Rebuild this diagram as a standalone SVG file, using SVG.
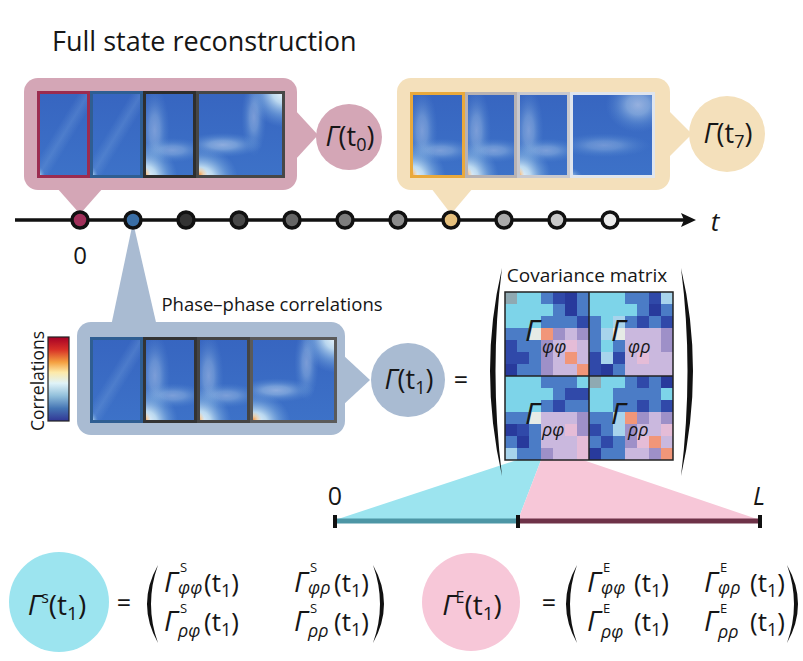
<svg xmlns="http://www.w3.org/2000/svg" width="803" height="661" viewBox="0 0 803 661">
<style>
text{font-family:"Open Sans","Noto Sans","Liberation Sans",sans-serif;fill:#161616}
.it{font-style:italic}
.cv rect{width:12px;height:12px}
.g{fill:#8fa9b2}.c{fill:#7dd4e9}.l{fill:#a8d4ec}.w{fill:#e6ebe6}.b{fill:#4b7cc6}.d{fill:#3049a9}.n{fill:#283a9c}.v{fill:#cab8de}.p{fill:#9e90c8}.k{fill:#e5bcd7}.s{fill:#f19679}
.dot{stroke:#111;stroke-width:3.5}
.hb{fill:none;stroke-width:3}
.pk{fill:#d4a6b6}.yl{fill:#f4e0bb}.bl{fill:#a9bbd2}
.ga{font-size:28px;font-style:italic}
.sp{font-size:13px}
.sb{font-size:18px;font-style:italic}
.el{font-size:26px}
</style>
<defs>
<radialGradient id="hl"><stop offset="0" stop-color="#f4fafd"/><stop offset=".35" stop-color="#c9e4f4" stop-opacity=".9"/><stop offset=".7" stop-color="#86b4e2" stop-opacity=".45"/><stop offset="1" stop-color="#6a9bdb" stop-opacity="0"/></radialGradient>
<radialGradient id="or"><stop offset="0" stop-color="#f39a4c"/><stop offset=".5" stop-color="#f6c48a" stop-opacity=".6"/><stop offset="1" stop-color="#f6c48a" stop-opacity="0"/></radialGradient>
<linearGradient id="base" x1="0" y1="0" x2="0" y2="1"><stop offset="0" stop-color="#3765c0"/><stop offset="1" stop-color="#3d72c8"/></linearGradient>
<linearGradient id="diag" x1="0" y1="0" x2="1" y2="1"><stop offset="0" stop-color="#7aa6de" stop-opacity="0"/><stop offset=".4" stop-color="#7aa6de" stop-opacity="0"/><stop offset=".5" stop-color="#7aa6de" stop-opacity=".3"/><stop offset=".6" stop-color="#7aa6de" stop-opacity="0"/><stop offset="1" stop-color="#7aa6de" stop-opacity="0"/></linearGradient>
<linearGradient id="cb" x1="0" y1="0" x2="0" y2="1"><stop offset="0" stop-color="#a50026"/><stop offset=".15" stop-color="#d73027"/><stop offset=".3" stop-color="#f4a040"/><stop offset=".42" stop-color="#fde9a8"/><stop offset=".55" stop-color="#e0f3f8"/><stop offset=".7" stop-color="#91bfdb"/><stop offset=".85" stop-color="#4575b4"/><stop offset="1" stop-color="#313695"/></linearGradient>
<symbol id="hmFlat" viewBox="0 0 100 100" preserveAspectRatio="none">
<rect width="100" height="100" fill="url(#base)"/>
<rect width="100" height="100" fill="url(#diag)"/>
<ellipse cx="0" cy="100" rx="16" ry="14" fill="url(#hl)"/>
</symbol>
<symbol id="hmBand" viewBox="0 0 100 100" preserveAspectRatio="none">
<rect width="100" height="100" fill="url(#base)"/>
<ellipse cx="22" cy="45" rx="28" ry="50" fill="url(#hl)" opacity=".35"/>
<ellipse cx="55" cy="68" rx="65" ry="14" fill="url(#hl)" opacity=".35"/>
<ellipse cx="5" cy="100" rx="60" ry="40" fill="url(#hl)"/>
<circle cx="4" cy="97" r="10" fill="url(#or)"/>
</symbol>
<symbol id="hmCross" viewBox="0 0 100 100" preserveAspectRatio="none">
<rect width="100" height="100" fill="url(#base)"/>
<ellipse cx="100" cy="0" rx="42" ry="42" fill="url(#hl)"/>
<ellipse cx="30" cy="62" rx="45" ry="14" fill="url(#hl)" opacity=".45"/>
<ellipse cx="65" cy="30" rx="14" ry="45" fill="url(#hl)" opacity=".35"/>
<ellipse cx="5" cy="100" rx="42" ry="36" fill="url(#hl)"/>
<circle cx="4" cy="96" r="9" fill="url(#or)"/>
</symbol>
<symbol id="hmSoft" viewBox="0 0 100 100" preserveAspectRatio="none">
<rect width="100" height="100" fill="url(#base)"/>
<ellipse cx="80" cy="15" rx="38" ry="32" fill="url(#hl)" opacity=".5"/>
<ellipse cx="40" cy="62" rx="55" ry="14" fill="url(#hl)" opacity=".3"/>
<ellipse cx="0" cy="100" rx="15" ry="12" fill="url(#hl)" opacity=".6"/>
</symbol>
<marker id="arr" viewBox="0 0 15 14" refX="3" refY="7" markerWidth="15" markerHeight="14" markerUnits="userSpaceOnUse" orient="auto"><path d="M0,0 L15,7 L0,14 L3,7Z" fill="#111"/></marker>
</defs>

<rect width="803" height="661" fill="#fff"/>

<text x="52" y="51" font-size="27">Full state reconstruction</text>

<!-- t0 panel -->
<g id="panel-t0">
<rect class="pk" x="24" y="78" width="273" height="112" rx="14"/>
<polygon class="pk" points="57,188 103,188 80,214"/>
<polygon class="pk" points="295,110 318,135 295,160"/>
<use href="#hmFlat" x="37" y="91" width="53" height="87"/>
<use href="#hmFlat" x="90" y="91" width="53" height="87"/>
<use href="#hmBand" x="143" y="91" width="53" height="87"/>
<use href="#hmCross" x="196" y="91" width="89" height="87"/>
<rect class="hb" x="38.5" y="92.5" width="50" height="84" stroke="#9b2c50"/>
<rect class="hb" x="91.5" y="92.5" width="50" height="84" stroke="#2f5e92"/>
<rect class="hb" x="144.5" y="92.5" width="50" height="84" stroke="#2e2e2e"/>
<rect class="hb" x="197.5" y="92.5" width="86" height="84" stroke="#474747"/>
</g>
<g id="node-t0">
<circle class="pk" cx="349" cy="137" r="33"/>
<text x="350" y="146" text-anchor="middle" font-size="27"><tspan class="it">Γ</tspan>(t<tspan font-size="18" dy="5">0</tspan><tspan dy="-5">)</tspan></text>
</g>

<!-- t7 panel -->
<g id="panel-t7">
<rect class="yl" x="397" y="78" width="273" height="112" rx="14"/>
<polygon class="yl" points="431,188 473,188 451,214"/>
<polygon class="yl" points="668,110 692,134 668,158"/>
<use href="#hmBand" x="410" y="92" width="55" height="86"/>
<use href="#hmBand" x="465" y="92" width="52" height="86"/>
<use href="#hmBand" x="517" y="92" width="53" height="86"/>
<use href="#hmSoft" x="570" y="92" width="85" height="86"/>
<rect class="hb" x="411.5" y="93.5" width="52" height="83" stroke="#e9a93c"/>
<rect class="hb" x="466.5" y="93.5" width="49" height="83" stroke="#b7b2b3"/>
<rect class="hb" x="518.5" y="93.5" width="50" height="83" stroke="#c9c9ce"/>
<rect class="hb" x="571.5" y="93.5" width="82" height="83" stroke="#dfe5ee"/>
</g>
<g id="node-t7">
<circle class="yl" cx="727" cy="134" r="38"/>
<text x="728" y="143" text-anchor="middle" font-size="27"><tspan class="it">Γ</tspan>(t<tspan font-size="18" dy="5">7</tspan><tspan dy="-5">)</tspan></text>
</g>

<!-- t1 panel -->
<g id="panel-t1">
<polygon class="bl" points="133,222 110,331 158,331"/>
<rect class="bl" x="77" y="322" width="268" height="113" rx="14"/>
<polygon class="bl" points="343,355 370,380 343,405"/>
<text x="272" y="311" text-anchor="middle" font-size="18.5">Phase–phase correlations</text>
<use href="#hmFlat" x="90" y="337" width="53" height="86"/>
<use href="#hmBand" x="143" y="337" width="54" height="86"/>
<use href="#hmBand" x="197" y="337" width="53" height="86"/>
<use href="#hmCross" x="250" y="337" width="87" height="86"/>
<rect class="hb" x="91.5" y="338.5" width="50" height="83" stroke="#2f5e92"/>
<rect class="hb" x="144.5" y="338.5" width="51" height="83" stroke="#333"/>
<rect class="hb" x="198.5" y="338.5" width="50" height="83" stroke="#444"/>
<rect class="hb" x="251.5" y="338.5" width="84" height="83" stroke="#5a5a5a"/>
</g>
<g id="node-t1">
<circle class="bl" cx="408" cy="380" r="37"/>
<text x="409" y="389" text-anchor="middle" font-size="27"><tspan class="it">Γ</tspan>(t<tspan font-size="18" dy="5">1</tspan><tspan dy="-5">)</tspan></text>
<text x="461" y="389" text-anchor="middle" font-size="25">=</text>
</g>

<!-- colorbar -->
<g id="colorbar">
<rect x="48" y="337" width="21" height="84" fill="url(#cb)" stroke="#222" stroke-width="1.2"/>
<text transform="translate(44,381) rotate(-90)" text-anchor="middle" font-size="17.5">Correlations</text>
</g>

<!-- timeline -->
<g id="connectors">
<line x1="15" y1="220" x2="684" y2="220" stroke="#111" stroke-width="3.5" marker-end="url(#arr)"/>
</g>
<g id="timeline">
<circle class="dot" cx="80" cy="220" r="8" fill="#a0305a"/>
<circle class="dot" cx="133" cy="220" r="8" fill="#3a6ea5"/>
<circle class="dot" cx="186" cy="220" r="8" fill="#333"/>
<circle class="dot" cx="239" cy="220" r="8" fill="#474747"/>
<circle class="dot" cx="292" cy="220" r="8" fill="#666"/>
<circle class="dot" cx="345" cy="220" r="8" fill="#7d7d7d"/>
<circle class="dot" cx="398" cy="220" r="8" fill="#8c8c8c"/>
<circle class="dot" cx="451" cy="220" r="8" fill="#e6c07d"/>
<circle class="dot" cx="504" cy="220" r="8" fill="#ababab"/>
<circle class="dot" cx="557" cy="220" r="8" fill="#c9c9c9"/>
<circle class="dot" cx="610" cy="220" r="8" fill="#ececec"/>
<text x="715" y="231" text-anchor="middle" font-size="26" class="it">t</text>
<text x="80" y="264" text-anchor="middle" font-size="24">0</text>
</g>

<!-- wedges to spatial bar -->
<g id="wedges">
<polygon points="335,520 518,520 541,460 517,460" fill="#9ce4ef"/>
<polygon points="518,520 760,520 583,460 541,460" fill="#f7c7d8"/>
</g>

<!-- covariance matrix -->
<g id="covariance">
<text x="587" y="282" text-anchor="middle" font-size="19">Covariance matrix</text>
<path d="M502,268 Q478,370 502,476 Q489,370 502,268Z" fill="#111"/>
<path d="M681,268 Q705,370 681,476 Q694,370 681,268Z" fill="#111"/>
<g class="cv" transform="translate(505,292)">
<rect class="g" x="0" y="0"/><rect class="c" x="12" y="0"/><rect class="c" x="24" y="0"/><rect class="b" x="36" y="0"/><rect class="d" x="48" y="0"/><rect class="n" x="60" y="0"/><rect class="b" x="72" y="0"/><rect class="c" x="84" y="0"/><rect class="c" x="96" y="0"/><rect class="c" x="108" y="0"/><rect class="b" x="120" y="0"/><rect class="b" x="132" y="0"/><rect class="d" x="144" y="0"/><rect class="l" x="156" y="0"/>
<rect class="c" x="0" y="12"/><rect class="c" x="12" y="12"/><rect class="c" x="24" y="12"/><rect class="c" x="36" y="12"/><rect class="b" x="48" y="12"/><rect class="n" x="60" y="12"/><rect class="b" x="72" y="12"/><rect class="c" x="84" y="12"/><rect class="c" x="96" y="12"/><rect class="c" x="108" y="12"/><rect class="c" x="120" y="12"/><rect class="b" x="132" y="12"/><rect class="n" x="144" y="12"/><rect class="b" x="156" y="12"/>
<rect class="c" x="0" y="24"/><rect class="c" x="12" y="24"/><rect class="c" x="24" y="24"/><rect class="b" x="36" y="24"/><rect class="b" x="48" y="24"/><rect class="b" x="60" y="24"/><rect class="d" x="72" y="24"/><rect class="b" x="84" y="24"/><rect class="c" x="96" y="24"/><rect class="l" x="108" y="24"/><rect class="b" x="120" y="24"/><rect class="d" x="132" y="24"/><rect class="b" x="144" y="24"/><rect class="d" x="156" y="24"/>
<rect class="b" x="0" y="36"/><rect class="b" x="12" y="36"/><rect class="w" x="24" y="36"/><rect class="s" x="36" y="36"/><rect class="p" x="48" y="36"/><rect class="v" x="60" y="36"/><rect class="p" x="72" y="36"/><rect class="b" x="84" y="36"/><rect class="l" x="96" y="36"/><rect class="w" x="108" y="36"/><rect class="v" x="120" y="36"/><rect class="v" x="132" y="36"/><rect class="v" x="144" y="36"/><rect class="p" x="156" y="36"/>
<rect class="d" x="0" y="48"/><rect class="b" x="12" y="48"/><rect class="b" x="24" y="48"/><rect class="p" x="36" y="48"/><rect class="v" x="48" y="48"/><rect class="k" x="60" y="48"/><rect class="v" x="72" y="48"/><rect class="b" x="84" y="48"/><rect class="c" x="96" y="48"/><rect class="b" x="108" y="48"/><rect class="v" x="120" y="48"/><rect class="v" x="132" y="48"/><rect class="v" x="144" y="48"/><rect class="p" x="156" y="48"/>
<rect class="d" x="0" y="60"/><rect class="d" x="12" y="60"/><rect class="b" x="24" y="60"/><rect class="p" x="36" y="60"/><rect class="v" x="48" y="60"/><rect class="s" x="60" y="60"/><rect class="v" x="72" y="60"/><rect class="d" x="84" y="60"/><rect class="l" x="96" y="60"/><rect class="d" x="108" y="60"/><rect class="v" x="120" y="60"/><rect class="k" x="132" y="60"/><rect class="v" x="144" y="60"/><rect class="v" x="156" y="60"/>
<rect class="n" x="0" y="72"/><rect class="b" x="12" y="72"/><rect class="b" x="24" y="72"/><rect class="p" x="36" y="72"/><rect class="v" x="48" y="72"/><rect class="v" x="60" y="72"/><rect class="s" x="72" y="72"/><rect class="d" x="84" y="72"/><rect class="n" x="96" y="72"/><rect class="b" x="108" y="72"/><rect class="v" x="120" y="72"/><rect class="v" x="132" y="72"/><rect class="v" x="144" y="72"/><rect class="v" x="156" y="72"/>
<rect class="c" x="0" y="84"/><rect class="c" x="12" y="84"/><rect class="c" x="24" y="84"/><rect class="b" x="36" y="84"/><rect class="b" x="48" y="84"/><rect class="b" x="60" y="84"/><rect class="c" x="72" y="84"/><rect class="g" x="84" y="84"/><rect class="c" x="96" y="84"/><rect class="c" x="108" y="84"/><rect class="b" x="120" y="84"/><rect class="d" x="132" y="84"/><rect class="b" x="144" y="84"/><rect class="n" x="156" y="84"/>
<rect class="c" x="0" y="96"/><rect class="c" x="12" y="96"/><rect class="c" x="24" y="96"/><rect class="c" x="36" y="96"/><rect class="b" x="48" y="96"/><rect class="d" x="60" y="96"/><rect class="d" x="72" y="96"/><rect class="c" x="84" y="96"/><rect class="c" x="96" y="96"/><rect class="b" x="108" y="96"/><rect class="b" x="120" y="96"/><rect class="b" x="132" y="96"/><rect class="b" x="144" y="96"/><rect class="c" x="156" y="96"/>
<rect class="c" x="0" y="108"/><rect class="c" x="12" y="108"/><rect class="c" x="24" y="108"/><rect class="b" x="36" y="108"/><rect class="d" x="48" y="108"/><rect class="b" x="60" y="108"/><rect class="b" x="72" y="108"/><rect class="c" x="84" y="108"/><rect class="c" x="96" y="108"/><rect class="b" x="108" y="108"/><rect class="b" x="120" y="108"/><rect class="d" x="132" y="108"/><rect class="b" x="144" y="108"/><rect class="d" x="156" y="108"/>
<rect class="b" x="0" y="120"/><rect class="b" x="12" y="120"/><rect class="w" x="24" y="120"/><rect class="v" x="36" y="120"/><rect class="v" x="48" y="120"/><rect class="v" x="60" y="120"/><rect class="p" x="72" y="120"/><rect class="b" x="84" y="120"/><rect class="b" x="96" y="120"/><rect class="l" x="108" y="120"/><rect class="s" x="120" y="120"/><rect class="p" x="132" y="120"/><rect class="v" x="144" y="120"/><rect class="p" x="156" y="120"/>
<rect class="n" x="0" y="132"/><rect class="d" x="12" y="132"/><rect class="b" x="24" y="132"/><rect class="v" x="36" y="132"/><rect class="v" x="48" y="132"/><rect class="k" x="60" y="132"/><rect class="p" x="72" y="132"/><rect class="d" x="84" y="132"/><rect class="b" x="96" y="132"/><rect class="l" x="108" y="132"/><rect class="p" x="120" y="132"/><rect class="v" x="132" y="132"/><rect class="v" x="144" y="132"/><rect class="k" x="156" y="132"/>
<rect class="b" x="0" y="144"/><rect class="n" x="12" y="144"/><rect class="b" x="24" y="144"/><rect class="v" x="36" y="144"/><rect class="v" x="48" y="144"/><rect class="v" x="60" y="144"/><rect class="k" x="72" y="144"/><rect class="b" x="84" y="144"/><rect class="d" x="96" y="144"/><rect class="b" x="108" y="144"/><rect class="p" x="120" y="144"/><rect class="k" x="132" y="144"/><rect class="s" x="144" y="144"/><rect class="v" x="156" y="144"/>
<rect class="l" x="0" y="156"/><rect class="b" x="12" y="156"/><rect class="b" x="24" y="156"/><rect class="p" x="36" y="156"/><rect class="v" x="48" y="156"/><rect class="v" x="60" y="156"/><rect class="k" x="72" y="156"/><rect class="n" x="84" y="156"/><rect class="b" x="96" y="156"/><rect class="b" x="108" y="156"/><rect class="v" x="120" y="156"/><rect class="v" x="132" y="156"/><rect class="p" x="144" y="156"/><rect class="s" x="156" y="156"/>
</g>
<rect x="505" y="292" width="168" height="168" fill="none" stroke="#222" stroke-width="1.5"/>
<line x1="589" y1="292" x2="589" y2="460" stroke="#222" stroke-width="1.5"/>
<line x1="505" y1="376" x2="673" y2="376" stroke="#222" stroke-width="1.5"/>
<text x="525" y="341" font-size="30" class="it">Γ</text><text x="542" y="353" class="sb" font-size="21">φφ</text>
<text x="611" y="341" font-size="30" class="it">Γ</text><text x="628" y="353" class="sb" font-size="21">φρ</text>
<text x="525" y="424" font-size="30" class="it">Γ</text><text x="542" y="436" class="sb" font-size="21">ρφ</text>
<text x="611" y="424" font-size="30" class="it">Γ</text><text x="628" y="436" class="sb" font-size="21">ρρ</text>
</g>

<!-- spatial bar -->
<g id="spatial-bar">
<line x1="335" y1="521" x2="518" y2="521" stroke="#4d96a5" stroke-width="5"/>
<line x1="518" y1="521" x2="760" y2="521" stroke="#6e3248" stroke-width="5"/>
<rect x="333" y="515" width="4" height="13" fill="#111"/>
<rect x="516" y="515" width="4" height="13" fill="#111"/>
<rect x="758" y="515" width="4" height="13" fill="#111"/>
<text x="335" y="505" text-anchor="middle" font-size="25">0</text>
<text x="759" y="505" text-anchor="middle" font-size="25" class="it">L</text>
</g>

<!-- system node -->
<g id="node-system">
<circle cx="59" cy="602" r="50" fill="#9ce4ef"/>
<text x="57" y="615" text-anchor="middle" font-size="28"><tspan class="it">Γ</tspan><tspan font-size="16" dy="-12">s</tspan><tspan dy="12">(t</tspan><tspan font-size="19" dy="5">1</tspan><tspan dy="-5">)</tspan></text>
<text x="124" y="612" text-anchor="middle" font-size="25">=</text>
<path d="M158,565 Q136,604 158,643 Q144,604 158,565Z" fill="#111"/>
<path d="M373,565 Q395,604 373,643 Q387,604 373,565Z" fill="#111"/>
<text x="164" y="592" class="ga">Γ</text><text x="180" y="572" class="sp">S</text><text x="178" y="594" class="sb">φφ</text>
<text x="204" y="592" class="el">(t<tspan font-size="18" dy="5">1</tspan><tspan dy="-5">)</tspan></text>
<text x="294" y="592" class="ga">Γ</text><text x="310" y="572" class="sp">S</text><text x="308" y="594" class="sb">φρ</text>
<text x="334" y="592" class="el">(t<tspan font-size="18" dy="5">1</tspan><tspan dy="-5">)</tspan></text>
<text x="164" y="631" class="ga">Γ</text><text x="180" y="613" class="sp">S</text><text x="178" y="637" class="sb">ρφ</text>
<text x="204" y="631" class="el">(t<tspan font-size="18" dy="5">1</tspan><tspan dy="-5">)</tspan></text>
<text x="294" y="631" class="ga">Γ</text><text x="310" y="613" class="sp">S</text><text x="308" y="637" class="sb">ρρ</text>
<text x="334" y="631" class="el">(t<tspan font-size="18" dy="5">1</tspan><tspan dy="-5">)</tspan></text>
</g>

<!-- environment node -->
<g id="node-environment">
<circle cx="471" cy="602" r="49" fill="#f7c7d8"/>
<text x="472" y="615" text-anchor="middle" font-size="28"><tspan class="it">Γ</tspan><tspan font-size="16" dy="-12">E</tspan><tspan dy="12">(t</tspan><tspan font-size="19" dy="5">1</tspan><tspan dy="-5">)</tspan></text>
<text x="549" y="612" text-anchor="middle" font-size="25">=</text>
<path d="M577,565 Q555,604 577,643 Q563,604 577,565Z" fill="#111"/>
<path d="M787,565 Q809,604 787,643 Q801,604 787,565Z" fill="#111"/>
<text x="587" y="592" class="ga">Γ</text><text x="603" y="572" class="sp">E</text><text x="601" y="594" class="sb" font-size="20">φφ</text>
<text x="634" y="592" class="el">(t<tspan font-size="18" dy="5">1</tspan><tspan dy="-5">)</tspan></text>
<text x="704" y="592" class="ga">Γ</text><text x="720" y="572" class="sp">E</text><text x="718" y="594" class="sb" font-size="20">φρ</text>
<text x="750" y="592" class="el">(t<tspan font-size="18" dy="5">1</tspan><tspan dy="-5">)</tspan></text>
<text x="587" y="631" class="ga">Γ</text><text x="603" y="613" class="sp">E</text><text x="601" y="638" class="sb" font-size="20">ρφ</text>
<text x="634" y="631" class="el">(t<tspan font-size="18" dy="5">1</tspan><tspan dy="-5">)</tspan></text>
<text x="704" y="631" class="ga">Γ</text><text x="720" y="613" class="sp">E</text><text x="718" y="638" class="sb" font-size="20">ρρ</text>
<text x="750" y="631" class="el">(t<tspan font-size="18" dy="5">1</tspan><tspan dy="-5">)</tspan></text>
</g>
</svg>
